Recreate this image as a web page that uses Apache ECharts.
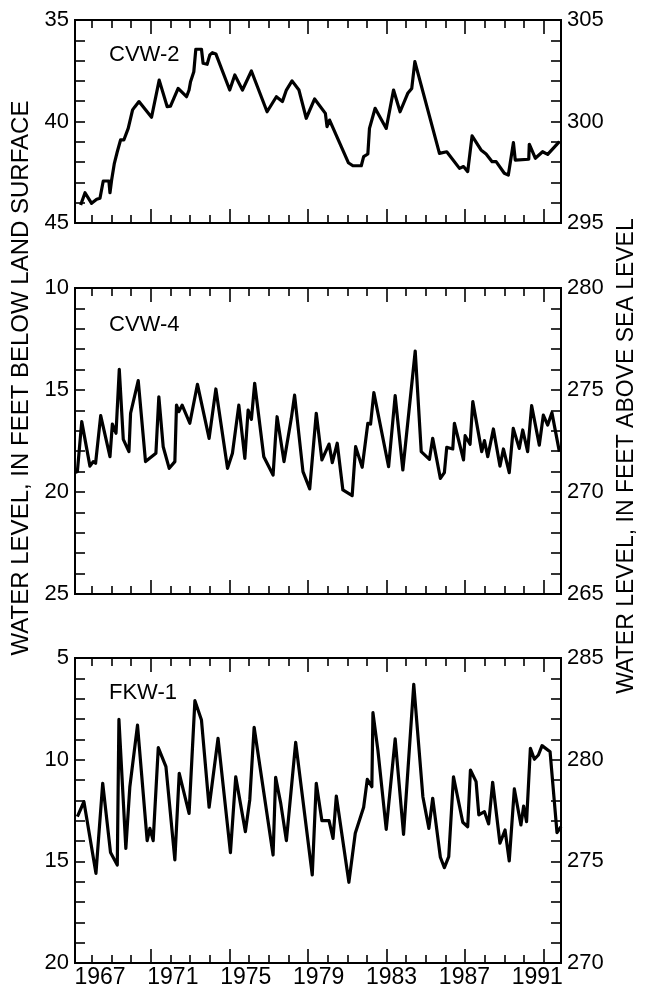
<!DOCTYPE html>
<html>
<head>
<meta charset="utf-8">
<script src="https://cdn.jsdelivr.net/npm/echarts@6/dist/echarts.min.js"></script>
<style>html,body{margin:0;padding:0;background:#fff}#c{width:647px;height:995px}</style>
</head>
<body>
<div id="c"></div>
<script>
// ---- data (decimal year, depth below land surface in feet) ----
const cvw2Years = [1965.94,1966.18,1966.54,1966.82,1967.00,1967.18,1967.49,1967.55,1967.64,1967.79,1967.95,1968.13,1968.31,1968.55,1968.79,1968.92,1969.14,1969.83,1970.25,1970.69,1970.87,1971.29,1971.75,1971.89,1971.97,1972.15,1972.26,1972.57,1972.66,1972.88,1973.03,1973.17,1973.36,1974.12,1974.40,1974.82,1975.31,1976.17,1976.68,1977.01,1977.23,1977.54,1977.92,1978.32,1978.78,1979.37,1979.46,1979.60,1980.63,1980.88,1981.34,1981.47,1981.70,1981.79,1982.10,1982.71,1983.11,1983.47,1983.89,1984.11,1984.28,1985.63,1986.03,1986.73,1986.95,1987.18,1987.42,1987.91,1988.19,1988.52,1988.74,1989.19,1989.41,1989.69,1989.79,1990.53,1990.56,1990.89,1991.29,1991.57,1992.21];
const cvw2Depth = [44.11,43.51,44.03,43.83,43.78,42.93,42.93,43.51,42.88,42.06,41.49,40.91,40.91,40.34,39.43,39.27,39.02,39.79,37.96,39.27,39.24,38.37,38.78,38.45,38.04,37.55,36.44,36.44,37.13,37.18,36.72,36.61,36.67,38.45,37.71,38.45,37.51,39.52,38.78,39.02,38.45,38.00,38.45,39.84,38.89,39.60,40.25,39.93,42.03,42.18,42.18,41.73,41.60,40.34,39.35,40.34,38.45,39.52,38.61,38.37,37.05,41.57,41.49,42.31,42.22,42.47,40.71,41.40,41.60,41.98,41.98,42.55,42.64,41.04,41.90,41.86,41.12,41.81,41.49,41.62,40.99];

const cvw4Years = [1965.63,1965.76,1966.00,1966.45,1966.63,1966.76,1967.04,1967.55,1967.68,1967.88,1968.06,1968.28,1968.59,1968.68,1969.10,1969.50,1970.07,1970.23,1970.47,1970.80,1971.11,1971.20,1971.33,1971.51,1971.93,1972.35,1972.99,1973.36,1974.00,1974.27,1974.62,1974.95,1975.13,1975.31,1975.49,1975.99,1976.50,1976.63,1976.72,1977.10,1977.50,1977.68,1977.78,1978.14,1978.51,1978.87,1979.18,1979.57,1979.75,1980.02,1980.33,1980.84,1981.03,1981.39,1981.70,1981.85,1982.03,1982.84,1983.20,1983.62,1984.30,1984.63,1985.08,1985.26,1985.68,1985.90,1986.03,1986.36,1986.45,1986.95,1987.04,1987.31,1987.46,1987.95,1988.10,1988.28,1988.59,1988.95,1989.14,1989.46,1989.68,1990.01,1990.20,1990.47,1990.69,1991.11,1991.33,1991.57,1991.80,1992.21];
const cvw4Depth = [19.05,19.00,16.55,18.73,18.51,18.59,16.26,18.27,16.67,17.12,13.99,17.42,18.02,16.14,14.54,18.51,18.10,15.33,17.78,18.84,18.51,15.74,16.06,15.74,16.63,14.72,17.37,14.95,18.84,18.10,15.74,18.35,15.98,16.44,14.67,18.27,19.17,17.37,16.31,18.51,16.39,15.25,16.06,19.00,19.85,16.14,18.43,17.65,18.56,17.61,19.90,20.18,17.78,18.79,16.63,16.67,15.13,18.76,15.28,18.92,13.09,18.02,18.40,17.37,19.33,19.05,17.81,17.89,16.63,18.43,17.24,17.66,15.57,18.02,17.48,18.27,16.91,18.73,17.89,19.05,16.88,17.86,16.96,18.02,15.77,17.70,16.23,16.72,16.11,18.02];

const fkw1Years = [1965.76,1966.12,1966.78,1967.15,1967.58,1967.95,1968.04,1968.42,1968.64,1969.06,1969.59,1969.74,1969.92,1970.20,1970.62,1971.11,1971.35,1971.89,1972.21,1972.57,1972.99,1973.48,1974.16,1974.45,1974.98,1975.22,1975.46,1976.50,1976.64,1976.92,1977.23,1977.74,1978.65,1978.87,1979.18,1979.57,1979.79,1979.97,1980.66,1981.01,1981.47,1981.67,1981.92,1981.98,1982.25,1982.71,1983.20,1983.66,1984.22,1984.72,1985.05,1985.26,1985.68,1985.90,1986.14,1986.40,1986.91,1987.18,1987.33,1987.64,1987.79,1988.10,1988.33,1988.55,1988.95,1989.23,1989.46,1989.74,1990.10,1990.25,1990.41,1990.62,1990.84,1991.06,1991.26,1991.70,1992.08,1992.30];
const fkw1Depth = [12.80,12.07,15.59,11.16,14.57,15.18,8.02,14.36,11.33,8.30,13.98,13.38,13.98,9.41,10.34,14.93,10.67,12.64,7.10,8.05,12.34,8.95,14.57,10.84,13.54,11.98,8.41,14.69,10.87,12.15,13.98,9.15,15.67,11.16,13.00,13.00,13.87,11.79,16.03,13.62,12.34,10.97,11.33,7.69,9.52,13.43,8.98,13.67,6.30,11.82,13.38,11.90,14.80,15.31,14.77,10.84,13.08,13.30,10.51,11.08,12.72,12.56,13.16,11.11,14.11,13.46,14.98,11.44,13.21,12.28,13.05,9.44,9.98,9.77,9.31,9.61,13.59,13.30];

const wellNames = ['CVW-2', 'CVW-4', 'FKW-1'];
const labelYears = [1967, 1971, 1975, 1979, 1983, 1987, 1991];
const depthRanges = [[35, 45], [10, 25], [5, 20]];
const elevRanges = [[295, 305], [265, 280], [270, 285]];
const leftTitle = 'WATER LEVEL, IN FEET BELOW LAND SURFACE';
const rightTitle = 'WATER LEVEL, IN FEET ABOVE SEA LEVEL';

// ---- layout ----
const X_MIN = 1965.63, X_MAX = 1992.30;
const TICK_START = 1966.56, TICK_STEP = 1.0778;
const longTicks = [], shortTicks = [];
for (let k = 1; k <= 24; k++) {
  const v = TICK_START + (k - 1) * TICK_STEP;
  (k % 4 === 0 ? longTicks : shortTicks).push(v);
}
const FONT = 'Liberation Sans, Arial, Helvetica, sans-serif';
const grids = [
  {left: 75, top: 20, width: 486, height: 203},
  {left: 75, top: 288, width: 486, height: 306},
  {left: 75, top: 658, width: 486, height: 305}
];
const AXIS_LINE = {show: true, lineStyle: {color: '#000', width: 2}};

const xAxis = [], yAxis = [], series = [];
grids.forEach((g, gi) => {
  [['bottom', longTicks, 14], ['bottom', shortTicks, 8], ['top', longTicks, 14], ['top', shortTicks, 8]].forEach(([pos, vals, len], j) => {
    const showLab = gi === 2 && pos === 'bottom' && j === 0;
    xAxis.push({
      gridIndex: gi, type: 'value', position: pos, min: X_MIN, max: X_MAX,
      axisLine: AXIS_LINE, splitLine: {show: false},
      axisTick: {show: true, inside: true, length: len, customValues: vals, lineStyle: {color: '#000', width: 1.6}},
      axisLabel: showLab ? {show: true, customValues: labelYears, color: '#000', fontSize: 23, fontFamily: FONT, margin: 3, formatter: v => String(Math.round(v))} : {show: false}
    });
  });
  const fmt = v => (Math.abs(v % 5) < 1e-6 ? String(Math.round(v)) : '');
  yAxis.push({
    gridIndex: gi, type: 'value', position: 'left', inverse: true,
    min: depthRanges[gi][0], max: depthRanges[gi][1], interval: 1,
    axisLine: AXIS_LINE, splitLine: {show: false},
    axisTick: {show: true, inside: true, length: 10, lineStyle: {color: '#000', width: 1.6}},
    axisLabel: {color: '#000', fontSize: 22, fontFamily: FONT, margin: 6, formatter: fmt, showMinLabel: true, showMaxLabel: true}
  });
  yAxis.push({
    gridIndex: gi, type: 'value', position: 'right',
    min: elevRanges[gi][0], max: elevRanges[gi][1], interval: 1,
    axisLine: AXIS_LINE, splitLine: {show: false},
    axisTick: {show: true, inside: true, length: 10, lineStyle: {color: '#000', width: 1.6}},
    axisLabel: {color: '#000', fontSize: 22, fontFamily: FONT, margin: 6, formatter: fmt, showMinLabel: true, showMaxLabel: true}
  });
});

const seriesData = [[cvw2Years, cvw2Depth], [cvw4Years, cvw4Depth], [fkw1Years, fkw1Depth]];
seriesData.forEach(([xs, ys], gi) => {
  series.push({
    name: wellNames[gi], type: 'line', xAxisIndex: gi * 4, yAxisIndex: gi * 2,
    data: xs.map((x, i) => [x, ys[i]]), showSymbol: false, symbol: 'none',
    lineStyle: {color: '#000', width: 3.2, join: 'round'}, animation: false
  });
});

const nameY = [56, 326, 694];
const graphic = wellNames.map((n, i) => ({
  type: 'text', left: 109, top: nameY[i] - 12,
  style: {text: n, fill: '#000', font: '22px ' + FONT}
}));
graphic.push({
  type: 'text', x: 21, y: 378, rotation: Math.PI / 2,
  style: {text: leftTitle, fill: '#000', font: '24px ' + FONT, textAlign: 'center', textVerticalAlign: 'middle'}
});
graphic.push({
  type: 'text', x: 627, y: 456, rotation: Math.PI / 2,
  style: {text: rightTitle, fill: '#000', font: '23px ' + FONT, textAlign: 'center', textVerticalAlign: 'middle'}
});

const chart = echarts.init(document.getElementById('c'), null, {renderer: 'canvas'});
chart.setOption({
  animation: false, backgroundColor: '#fff',
  grid: grids, xAxis, yAxis, series, graphic
});
</script>
</body>
</html>
